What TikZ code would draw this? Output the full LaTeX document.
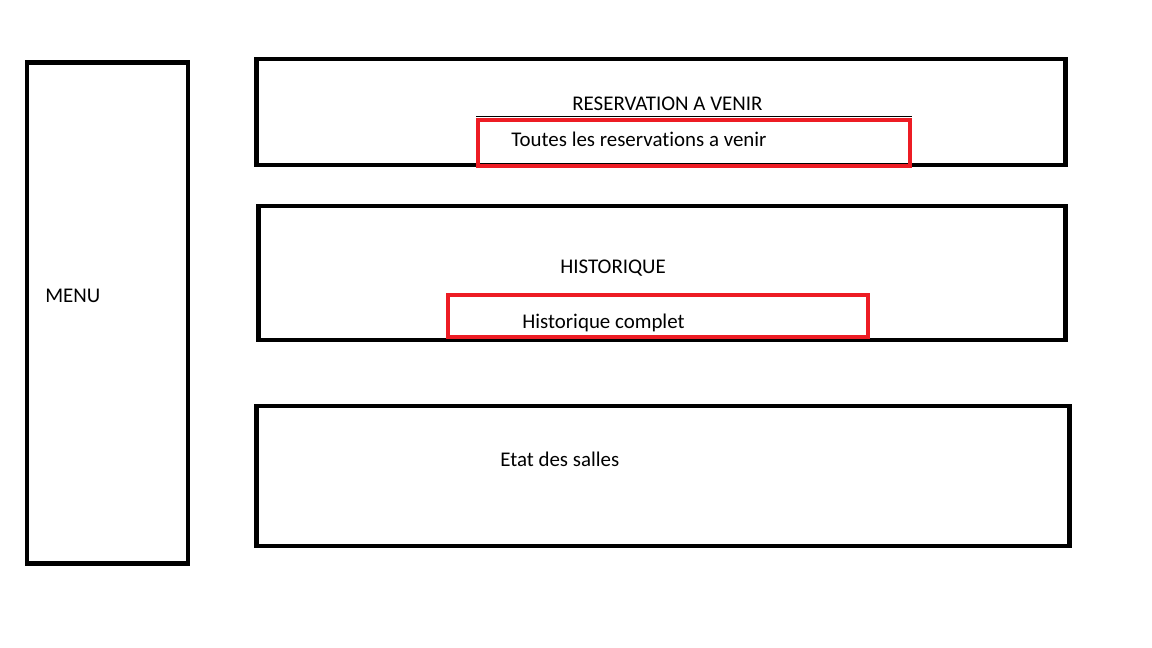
\documentclass[tikz,border=0pt]{standalone}
\usepackage{fontspec}
\setmainfont{Carlito}[Ligatures=NoCommon]
\usepackage{tikz}
\usetikzlibrary{positioning}
\definecolor{markred}{RGB}{237,28,36}
\tikzstyle{frame}=[draw,line width=2.8pt,rectangle,inner sep=0pt]
\tikzstyle{redmark}=[draw=markred,line width=2.3pt,rectangle,inner sep=0pt]
\tikzstyle{every node}=[font=\fontsize{11.9}{14}\selectfont,inner sep=0pt]

\begin{document}
\begin{tikzpicture}[x=0.02cm, y=-0.02cm]
    \useasboundingbox (0,0) rectangle (1152,648);
    % menu on the left
    \node[frame, minimum width=3.22cm, minimum height=10.04cm] (menu) at (107.5,313) {};
    \node[anchor=west] (menutxt) at (45,296) {MENU};
    % three panels
    \node[frame, minimum width=16.2cm, minimum height=2.12cm] (resa) at (661,112) {};
    \node[frame, minimum width=16.16cm, minimum height=2.68cm] (histo) at (662,273) {};
    \node[frame, minimum width=16.28cm, minimum height=2.8cm] (salles) at (663,476) {};
    \draw[line width=0.5pt] (476,116) coordinate (la) -- (912,116) coordinate (lb);
    % red marks
    \node[redmark, minimum width=8.64cm, minimum height=0.92cm] (resaall) at (694,143) {};
    \node[redmark, minimum width=8.4cm, minimum height=0.84cm] (histoall) at (658,316) {};
    % texts
    \node[anchor=west] (resatxt) at (572,104) {RESERVATION A VENIR};
    \node[anchor=west] (resaalltxt) at (511,139) {Toutes les reservations a venir};
    \node[anchor=west] (histotxt) at (560,268) {HISTORIQUE};
    \node[anchor=west] (histoalltxt) at (522,323) {Historique complet};
    \node[anchor=west] (sallestxt) at (500,459) {Etat des salles};
\end{tikzpicture}
\end{document}
